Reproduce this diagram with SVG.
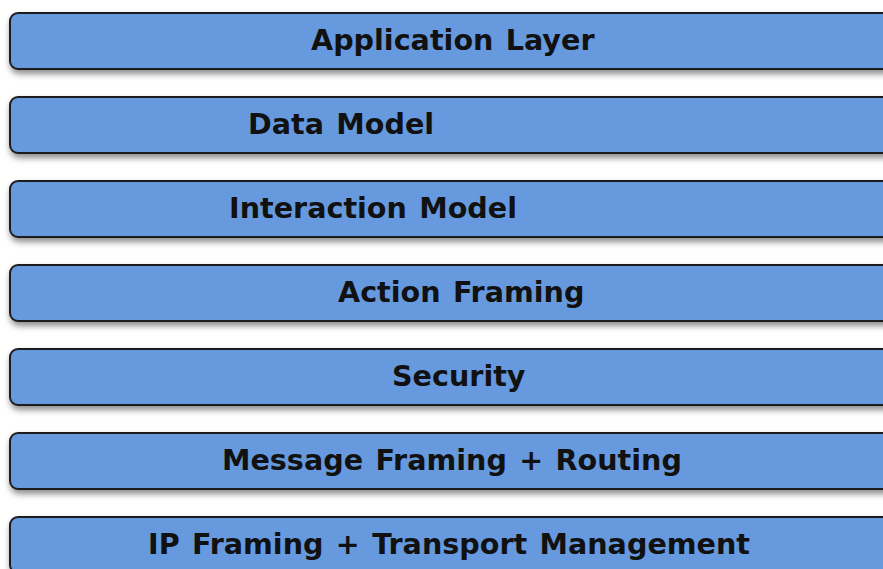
<svg xmlns="http://www.w3.org/2000/svg" width="883" height="569" viewBox="0 0 883 569">
<defs>
<filter id="sh" x="-5%" y="-30%" width="110%" height="180%">
<feDropShadow dx="1" dy="4" stdDeviation="3" flood-color="#000" flood-opacity="0.45"/>
</filter>
</defs>
<style>
.box{fill:#6699dd;stroke:#1c1c1c;stroke-width:2;filter:url(#sh)}
.lbl{font-family:"DejaVu Sans",sans-serif;font-weight:bold;font-size:28.6px;word-spacing:2.4px;fill:#111}
</style>
<rect width="883" height="569" fill="#fff"/>
<g id="application-layer"><rect class="box" x="10" y="13" width="900" height="56" rx="8"/><text class="lbl" x="311" y="50">Application Layer</text></g>
<g id="data-model"><rect class="box" x="10" y="97" width="900" height="56" rx="8"/><text class="lbl" x="248" y="134">Data Model</text></g>
<g id="interaction-model"><rect class="box" x="10" y="181" width="900" height="56" rx="8"/><text class="lbl" x="229" y="218">Interaction Model</text></g>
<g id="action-framing"><rect class="box" x="10" y="265" width="900" height="56" rx="8"/><text class="lbl" x="338" y="302">Action Framing</text></g>
<g id="security"><rect class="box" x="10" y="349" width="900" height="56" rx="8"/><text class="lbl" x="392" y="386">Security</text></g>
<g id="message-framing"><rect class="box" x="10" y="433" width="900" height="56" rx="8"/><text class="lbl" x="222" y="470">Message Framing + Routing</text></g>
<g id="ip-framing"><rect class="box" x="10" y="517" width="900" height="56" rx="8"/><text class="lbl" x="148" y="554">IP Framing + Transport Management</text></g>
<g id="connectors"/>
</svg>
